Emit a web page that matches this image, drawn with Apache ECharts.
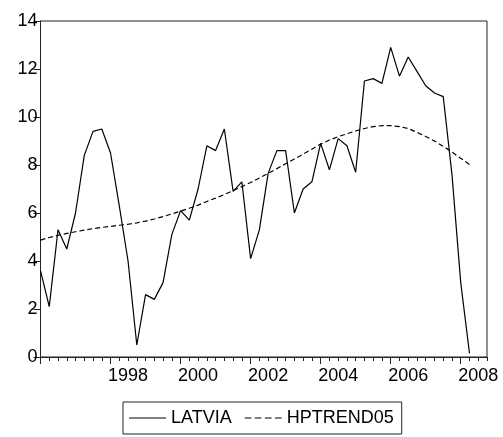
<!DOCTYPE html>
<html>
<head>
<meta charset="utf-8">
<script src="https://cdn.jsdelivr.net/npm/echarts@6/dist/echarts.min.js"></script>
<style>
  html, body { margin: 0; padding: 0; background: #fff; }
  #chart { width: 503px; height: 437px; }
</style>
</head>
<body>
<div id="chart"></div>
<script>
// Quarterly categories 1996Q1 .. 2008Q4
const years = [1996, 1997, 1998, 1999, 2000, 2001, 2002, 2003, 2004, 2005, 2006, 2007, 2008];
const quarters = [];
years.forEach(y => { for (let q = 1; q <= 4; q++) quarters.push(y + 'Q' + q); });

// Year labels shown on the axis
const yearLabels = ['1998', '2000', '2002', '2004', '2006', '2008'];

// Latvia, 1996Q1 .. 2008Q2
const latvia = [
  3.6, 2.1, 5.3, 4.5, 6.0, 8.4, 9.4, 9.5,
  8.5, 6.3, 4.0, 0.5, 2.6, 2.4, 3.1, 5.1,
  6.1, 5.7, 7.0, 8.8, 8.6, 9.5, 6.9, 7.3,
  4.1, 5.3, 7.65, 8.6, 8.6, 6.0, 7.0, 7.3,
  8.9, 7.8, 9.1, 8.8, 7.7, 11.5, 11.6, 11.4,
  12.9, 11.7, 12.5, 11.9, 11.3, 11.0, 10.85, 7.6,
  3.1, 0.15
];

// Hodrick-Prescott trend, same span
const hptrend05 = [
  4.87, 4.98, 5.07, 5.15, 5.22, 5.29, 5.35, 5.40,
  5.44, 5.49, 5.53, 5.59, 5.66, 5.75, 5.85, 5.96,
  6.08, 6.20, 6.33, 6.48, 6.62, 6.77, 6.93, 7.10,
  7.27, 7.46, 7.65, 7.85, 8.05, 8.25, 8.45, 8.66,
  8.87, 9.04, 9.18, 9.30, 9.42, 9.52, 9.60, 9.64,
  9.64, 9.60, 9.52, 9.36, 9.19, 9.00, 8.78, 8.54,
  8.28, 8.02
];

const yTicks = { min: 0, max: 14, interval: 2 };

const font = 'Arial, "Liberation Sans", sans-serif';
const axisColor = '#222';

// legend keys: a plain stroke and a four-dash stroke
const solidKey = 'path://M0,0h36v1h-36z';
const dashedKey = 'path://M0,0h6v1h-6zM9,0h6v1h-6zM18,0h6v1h-6zM27,0h6v1h-6z';

const chart = echarts.init(document.getElementById('chart'), null, { renderer: 'canvas' });

chart.setOption({
  animation: false,
  backgroundColor: '#fff',
  grid: { left: 40.5, right: 16, top: 21, bottom: 80, show: true, borderColor: axisColor, borderWidth: 1 },
  legend: {
    top: 402,
    left: 123,
    orient: 'horizontal',
    borderColor: '#222',
    borderWidth: 1,
    borderRadius: 0,
    padding: [7, 8, 7, 6],
    itemWidth: 37,
    itemHeight: 1.3,
    itemGap: 13,
    textStyle: { fontFamily: font, fontSize: 18, color: '#000' },
    data: [
      { name: 'LATVIA', icon: solidKey },
      { name: 'HPTREND05', icon: dashedKey }
    ]
  },
  xAxis: [
    {
      type: 'category',
      data: quarters,
      boundaryGap: false,
      axisLine: { show: true, lineStyle: { color: axisColor, width: 1 } },
      axisTick: { show: true, length: 4, interval: 0, lineStyle: { color: axisColor } },
      axisLabel: {
        show: true,
        interval: 0,
        margin: 10,
        fontFamily: font,
        fontSize: 18,
        color: '#000',
        formatter: function (v) {
          const y = v.slice(0, 4);
          return (v.slice(4) === 'Q3' && yearLabels.indexOf(y) >= 0) ? y : '';
        }
      },
      splitLine: { show: false }
    },
    {
      // longer ticks at the start of every second year
      type: 'category',
      data: quarters,
      boundaryGap: false,
      position: 'bottom',
      axisLine: { show: false },
      axisTick: {
        show: true,
        length: 7,
        interval: function (i, v) { return v.slice(4) === 'Q1' && (+v.slice(0, 4)) % 2 === 0; },
        lineStyle: { color: axisColor }
      },
      axisLabel: { show: false },
      splitLine: { show: false }
    }
  ],
  yAxis: {
    type: 'value',
    min: yTicks.min,
    max: yTicks.max,
    interval: yTicks.interval,
    axisLine: { show: true, lineStyle: { color: axisColor, width: 1 } },
    axisTick: { show: true, length: 7, lineStyle: { color: axisColor } },
    axisLabel: { margin: 3, fontFamily: font, fontSize: 18, color: '#000' },
    splitLine: { show: false }
  },
  series: [
    {
      name: 'LATVIA',
      type: 'line',
      data: latvia,
      symbol: 'none',
      lineStyle: { color: '#000', width: 1.2 },
      itemStyle: { color: '#000' }
    },
    {
      name: 'HPTREND05',
      type: 'line',
      data: hptrend05,
      symbol: 'none',
      lineStyle: { color: '#000', width: 1.2, type: [5, 3] },
      itemStyle: { color: '#000' }
    }
  ]
});
</script>
</body>
</html>
